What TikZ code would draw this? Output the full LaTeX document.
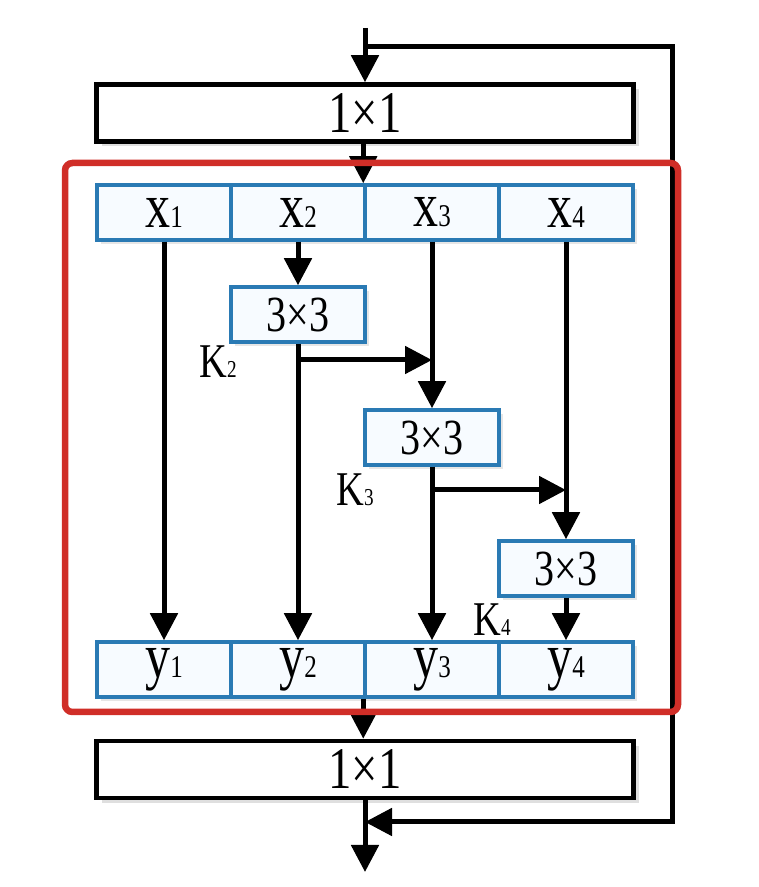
\documentclass[tikz,border=0pt]{standalone}
\usepackage{fontspec}
\setmainfont{Liberation Serif}
\usetikzlibrary{arrows.meta,shadows}

\definecolor{cellBlue}{RGB}{42,122,180}
\definecolor{cellFill}{RGB}{247,251,255}
\definecolor{frameRed}{RGB}{208,46,40}

\newcommand{\subidx}[1]{\scalebox{0.5}{#1}}
\newcommand{\tallbox}[1]{\scalebox{0.95}[1.2]{#1}}

\tikzset{
  convbox/.style={draw=black, line width=0.09cm, fill=white, inner sep=0pt,
    minimum width=10.74cm, minimum height=1.14cm, font=\fontsize{28}{30}\selectfont,
    drop shadow={shadow xshift=0.1cm, shadow yshift=-0.1cm, opacity=0.25}},
  cellbox/.style={draw=cellBlue, line width=0.07cm, fill=cellFill, inner sep=0pt,
    minimum width=2.68cm, minimum height=1.1cm, font=\fontsize{30}{32}\selectfont,
    drop shadow={shadow xshift=0.08cm, shadow yshift=-0.08cm, opacity=0.2}},
  kbox/.style={cellbox, font=\fontsize{24}{26}\selectfont},
  klabel/.style={inner sep=0pt, font=\fontsize{23}{25}\selectfont},
  flow/.style={line width=0.1cm, -{Triangle[length=0.54cm,width=0.54cm]}},
}

\begin{document}
\begin{tikzpicture}
  \useasboundingbox (0,0) rectangle (15.18,17.74);
  % \draw[step=1.0,thin,gray!40] (0,0) grid (15,17);

  \coordinate (inTop) at (7.30,17.18);
  \coordinate (skipStart) at (7.30,16.80);
  \coordinate (skipTR) at (13.44,16.80);
  \coordinate (skipBR) at (13.44,1.30);
  \coordinate (mergePt) at (7.30,1.30);
  \coordinate (outEnd) at (7.30,0.30);

  \node[convbox] (topConvNode) at (7.30,15.48) {\tallbox{1×1}};

  \node[cellbox] (x1Node) at (3.28,13.49) {\tallbox{x\subidx{1}}};
  \node[cellbox] (x2Node) at (5.96,13.49) {\tallbox{x\subidx{2}}};
  \node[cellbox] (x3Node) at (8.64,13.49) {\tallbox{x\subidx{3}}};
  \node[cellbox] (x4Node) at (11.32,13.49) {\tallbox{x\subidx{4}}};

  \node[kbox] (k2Node) at (5.96,11.45) {\tallbox{3×3}};
  \node[kbox] (k3Node) at (8.64,8.99) {\tallbox{3×3}};
  \node[kbox] (k4Node) at (11.32,6.37) {\tallbox{3×3}};

  \node[klabel] (k2Label) at (4.36,10.50) {\tallbox{K\subidx{2}}};
  \node[klabel] (k3Label) at (7.10,7.94) {\tallbox{K\subidx{3}}};
  \node[klabel] (k4Label) at (9.84,5.34) {\tallbox{K\subidx{4}}};

  \node[cellbox] (y1Node) at (3.28,4.35) {\tallbox{y\subidx{1}}};
  \node[cellbox] (y2Node) at (5.96,4.35) {\tallbox{y\subidx{2}}};
  \node[cellbox] (y3Node) at (8.64,4.35) {\tallbox{y\subidx{3}}};
  \node[cellbox] (y4Node) at (11.32,4.35) {\tallbox{y\subidx{4}}};

  \node[convbox] (botConvNode) at (7.30,2.35) {\tallbox{1×1}};

  % input and residual path
  \draw[flow] (inTop) -- (topConvNode);
  \draw[flow] (skipStart) -- (skipTR) -- (skipBR) -- (mergePt);
  \draw[flow] (botConvNode) -- (outEnd);

  % split and hierarchical 3x3 branches
  \draw[flow] (x1Node) -- (y1Node);
  \draw[flow] (x2Node) -- (k2Node);
  \draw[flow] (k2Node) -- (y2Node);
  \coordinate (branchA) at (5.96,10.54);
  \draw[flow] (branchA) -- (branchA -| x3Node);
  \draw[flow] (x3Node) -- (k3Node);
  \draw[flow] (k3Node) -- (y3Node);
  \coordinate (branchB) at (8.64,7.94);
  \draw[flow] (branchB) -- (branchB -| x4Node);
  \draw[flow] (x4Node) -- (k4Node);
  \draw[flow] (k4Node) -- (y4Node);

  \draw[flow] (topConvNode.south -| x3Node.west) -- (x3Node.north west);
  \draw[flow] (y3Node.south west) -- (botConvNode.north -| y3Node.west);

  % module frame
  \draw[frameRed, line width=0.13cm, rounded corners=0.15cm] (1.30,3.50) rectangle (13.56,14.48);
\end{tikzpicture}
\end{document}
